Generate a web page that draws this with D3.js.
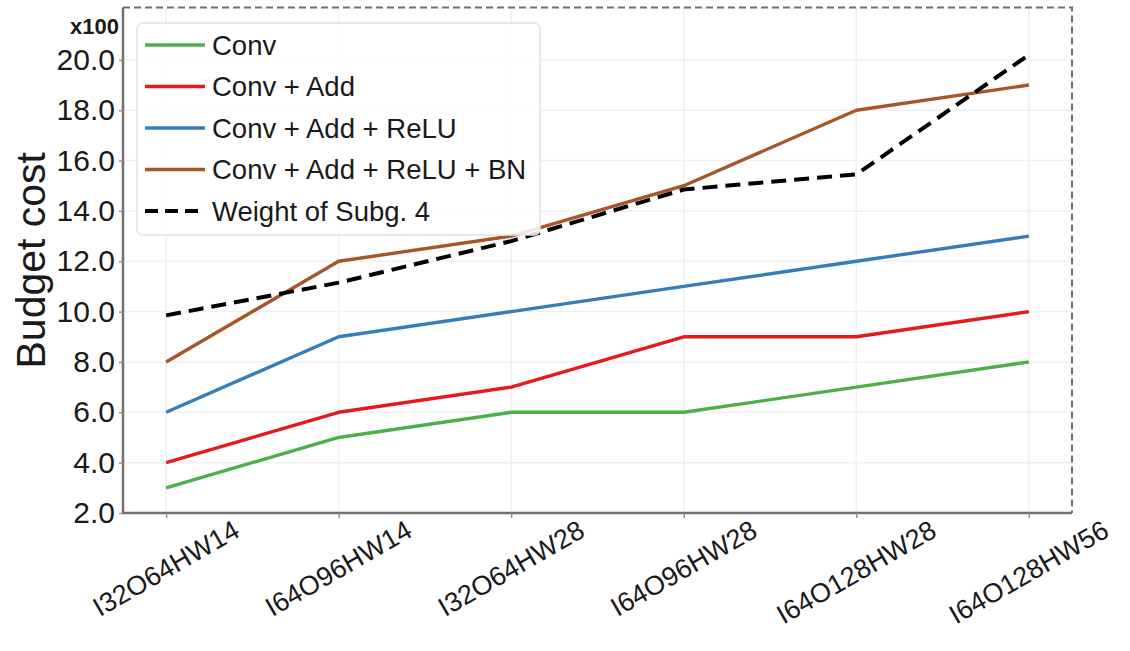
<!DOCTYPE html>
<html>
<head>
<meta charset="utf-8">
<script src="https://cdn.jsdelivr.net/npm/d3@7"></script>
<style>
  html, body { margin: 0; padding: 0; background: #ffffff; }
  svg { display: block; font-family: "Liberation Sans", Arial, Helvetica, sans-serif; }
</style>
</head>
<body>
<svg id="chart" width="1130" height="651"></svg>
<script>
// Layer configurations on the x axis
const categories = ["I32O64HW14", "I64O96HW14", "I32O64HW28", "I64O96HW28", "I64O128HW28", "I64O128HW56"];

// Budget cost per configuration (x100)
const conv            = [3, 5, 6, 6, 7, 8];
const convAdd         = [4, 6, 7, 9, 9, 10];
const convAddRelu     = [6, 9, 10, 11, 12, 13];
const convAddReluBn   = [8, 12, 13, 15, 18, 19];
const weightSubg4     = [9.85, 11.15, 12.8, 14.85, 15.45, 20.2];

const seriesNames  = ["Conv", "Conv + Add", "Conv + Add + ReLU", "Conv + Add + ReLU + BN", "Weight of Subg. 4"];
const yTickValues  = [2, 4, 6, 8, 10, 12, 14, 16, 18, 20];

const series = [
  { name: seriesNames[0], values: conv,          color: "#4daf4a", dash: null },
  { name: seriesNames[1], values: convAdd,       color: "#e41a1c", dash: null },
  { name: seriesNames[2], values: convAddRelu,   color: "#377eb8", dash: null },
  { name: seriesNames[3], values: convAddReluBn, color: "#a65628", dash: null },
  { name: seriesNames[4], values: weightSubg4,   color: "#000000", dash: "15,8" }
];

const svg = d3.select("#chart");
const plot = { left: 123, right: 1072, top: 7.5, bottom: 513 };

// Point scale with a quarter-step margin on each side
const x = d3.scalePoint()
  .domain(categories)
  .range([plot.left, plot.right])
  .padding(0.25);

const y = d3.scaleLinear().domain([2, 22.08]).range([plot.bottom, plot.top]);

// Grid
const grid = svg.append("g");
grid.selectAll("line.gy").data(yTickValues).join("line")
  .attr("x1", plot.left).attr("x2", plot.right)
  .attr("y1", d => y(d)).attr("y2", d => y(d))
  .attr("stroke", "#f0f0f0").attr("stroke-width", 1.5);
grid.selectAll("line.gx").data(categories).join("line")
  .attr("x1", d => x(d)).attr("x2", d => x(d))
  .attr("y1", plot.top).attr("y2", plot.bottom)
  .attr("stroke", "#f0f0f0").attr("stroke-width", 1.5);

// Frame: dashed top/right, solid left/bottom
svg.append("path")
  .attr("d", `M${plot.left},${plot.top}H${plot.right}V${plot.bottom}`)
  .attr("fill", "none").attr("stroke", "#707070").attr("stroke-width", 2)
  .attr("stroke-dasharray", "7,4");

// Y axis
const yAxis = svg.append("g")
  .attr("transform", `translate(${plot.left},0)`)
  .call(d3.axisLeft(y).tickValues(yTickValues).tickFormat(d3.format(".1f")).tickSize(4).tickPadding(4));
yAxis.select(".domain").attr("stroke", "#707070").attr("stroke-width", 2.5)
  .attr("d", `M0,${plot.top}V${plot.bottom}`);
yAxis.selectAll(".tick line").attr("stroke", "#909090").attr("stroke-width", 1.5);
yAxis.selectAll(".tick text").attr("font-size", 30).attr("fill", "#1a1a1a")
  .attr("font-family", "Liberation Sans, Arial, sans-serif");

// X axis
const xAxis = svg.append("g")
  .attr("transform", `translate(0,${plot.bottom})`)
  .call(d3.axisBottom(x).tickSize(5).tickFormat(""));
xAxis.select(".domain").attr("stroke", "#707070").attr("stroke-width", 2.5)
  .attr("d", `M${plot.left},0H${plot.right}`);
xAxis.selectAll(".tick line").attr("stroke", "#909090").attr("stroke-width", 1.5);

// Rotated category labels, centred under each tick
const angle = 30 * Math.PI / 180;
const labels = svg.append("g");
categories.forEach(c => {
  const t = labels.append("text")
    .attr("font-size", 27).attr("fill", "#1a1a1a")
    .attr("text-anchor", "middle").attr("dominant-baseline", "central")
    .text(c);
  const bb = t.node().getBBox();
  const H = bb.width * Math.sin(angle) + 20 * Math.cos(angle);
  t.attr("transform", `translate(${x(c)},${plot.bottom + 6 + H / 2}) rotate(-30)`);
});

// Axis title and multiplier
svg.append("text")
  .attr("transform", `translate(45,${(plot.top + plot.bottom) / 2}) rotate(-90)`)
  .attr("text-anchor", "middle").attr("font-size", 41).attr("fill", "#1a1a1a")
  .text("Budget cost");
svg.append("text")
  .attr("x", 119).attr("y", 34).attr("text-anchor", "end")
  .attr("font-size", 22).attr("font-weight", "bold").attr("fill", "#1a1a1a")
  .text("x100");

// Lines
const line = d3.line().x((d, i) => x(categories[i])).y(d => y(d));
svg.append("g").selectAll("path").data(series).join("path")
  .attr("d", d => line(d.values))
  .attr("fill", "none")
  .attr("stroke", d => d.color)
  .attr("stroke-width", d => d.dash ? 4 : 3.4)
  .attr("stroke-dasharray", d => d.dash)
  .attr("stroke-linejoin", "round");

// Legend
const legend = svg.append("g");
legend.append("rect")
  .attr("x", 137).attr("y", 23).attr("width", 403).attr("height", 212)
  .attr("rx", 6).attr("fill", "#ffffff").attr("fill-opacity", 0.85)
  .attr("stroke", "#e2e2e2").attr("stroke-width", 1.5);
series.forEach((s, i) => {
  const cy = 45 + i * 41.5;
  legend.append("line")
    .attr("x1", 145).attr("x2", 205).attr("y1", cy).attr("y2", cy)
    .attr("stroke", s.color).attr("stroke-width", s.dash ? 4 : 3.4)
    .attr("stroke-dasharray", s.dash ? "13,7" : null);
  legend.append("text")
    .attr("x", 212).attr("y", cy).attr("dominant-baseline", "central")
    .attr("font-size", 27.5).attr("fill", "#1a1a1a")
    .text(s.name);
});
</script>
</body>
</html>
